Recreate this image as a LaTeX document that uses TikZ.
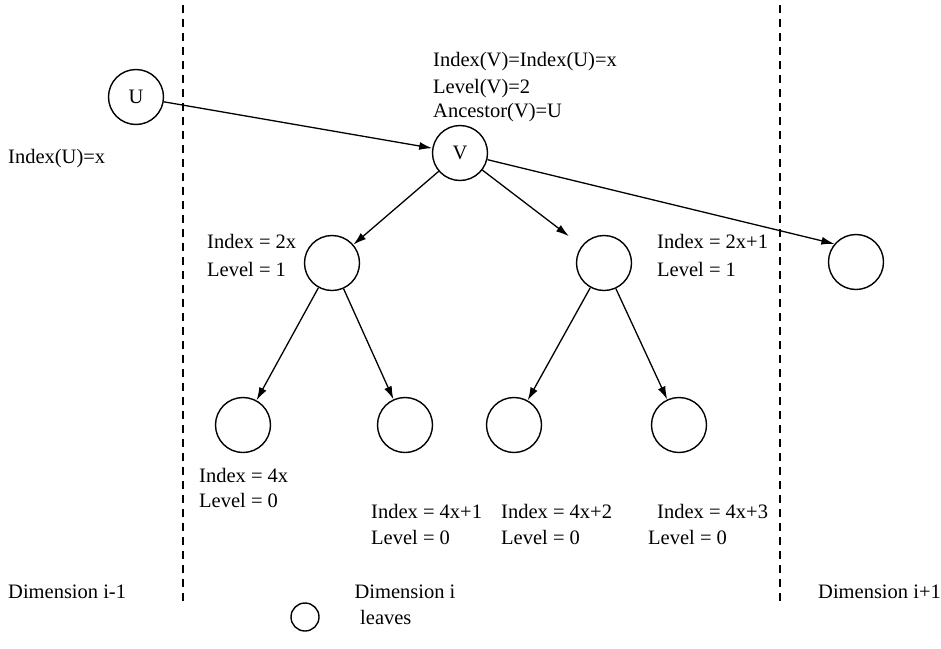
\documentclass[tikz,border=0pt]{standalone}
\usepackage{fontspec}
\setmainfont{Liberation Serif}
\usetikzlibrary{arrows.meta}
\begin{document}
\begin{tikzpicture}[x=1pt,y=-1pt,
  every node/.style={font=\fontsize{20.5}{23}\selectfont},
  nd/.style={circle,draw,line width=1.4pt,minimum size=55pt,inner sep=0pt},
  lbl/.style={anchor=base west,inner sep=0pt},
  arr/.style={line width=1.3pt,-{Latex[length=13pt,width=8pt]}},
  divider/.style={line width=1.3pt,dash pattern=on 8pt off 6pt}]
\useasboundingbox (0,0) rectangle (941,648);
% dividers
\coordinate (d1t) at (183,5); \coordinate (d1b) at (183,605);
\coordinate (d2t) at (780,5); \coordinate (d2b) at (780,605);
\draw[divider] (d1t) -- (d1b);
\draw[divider] (d2t) -- (d2b);
% nodes
\node[nd] (U) at (136,97) {U};
\node[nd] (V) at (460,153) {V};
\node[nd] (A) at (332,263) {};
\node[nd] (B) at (604,263) {};
\node[nd] (R) at (856,262) {};
\node[nd] (L1) at (243,425) {};
\node[nd] (L2) at (405,425) {};
\node[nd] (L3) at (514,425) {};
\node[nd] (L4) at (679,425) {};
% arrows
\draw[arr] (U) -- (V);
\draw[arr] (V) -- (R.140);
\draw[arr] (V) -- (A);
\draw[arr,shorten >=16pt] (V) -- (B);
\draw[arr] (A) -- (L1);
\draw[arr] (A) -- (L2);
\draw[arr] (B) -- (L3);
\draw[arr] (B) -- (L4);
% labels
\node[lbl] (tU) at (8,163) {Index(U)=x};
\node[lbl] (tV1) at (433,66) {Index(V)=Index(U)=x};
\node[lbl] (tV2) at (433,93) {Level(V)=2};
\node[lbl] (tV3) at (433,117) {Ancestor(V)=U};
\node[lbl] (tA1) at (207,248) {Index = 2x};
\node[lbl] (tA2) at (207,276) {Level = 1};
\node[lbl] (tB1) at (657,248) {Index = 2x+1};
\node[lbl] (tB2) at (657,276) {Level = 1};
\node[lbl] (t11) at (199,482) {Index = 4x};
\node[lbl] (t12) at (199,507) {Level = 0};
\node[lbl] (t21) at (371,518) {Index = 4x+1};
\node[lbl] (t22) at (371,544) {Level = 0};
\node[lbl] (t31) at (501,518) {Index = 4x+2};
\node[lbl] (t32) at (501,544) {Level = 0};
\node[lbl] (t41) at (657,518) {Index = 4x+3};
\node[lbl] (t42) at (648,544) {Level = 0};
\node[lbl] (D1) at (8,598) {Dimension i-1};
\node[anchor=base,inner sep=0pt] (D2) at (405,598) {Dimension i};
\node[lbl] (D3) at (818,598) {Dimension i+1};
% legend
\node[circle,draw,line width=1.4pt,minimum size=28pt,inner sep=0pt] (leg) at (305,617) {};
\node[lbl] (legt) at (360,624) {leaves};
\end{tikzpicture}
\end{document}
